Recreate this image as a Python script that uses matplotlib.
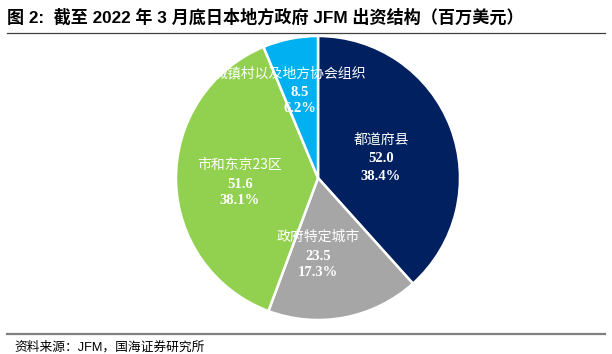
import matplotlib
matplotlib.use("Agg")
import matplotlib.pyplot as plt
from matplotlib.lines import Line2D

categories = ["都道府县", "政府特定城市", "市和东京23区", "城镇村以及地方协会组织"]
values = [52.0, 23.5, 51.6, 8.5]
percents = ["38.4%", "17.3%", "38.1%", "6.2%"]
colors = ["#002060", "#A6A6A6", "#92D050", "#00B0F0"]

W, H = 612, 354
fig = plt.figure(figsize=(W / 100, H / 100), dpi=100)
ax = fig.add_axes([0, 0, 1, 1])

cx, cy, R = 318, H - 178, 142
ax.pie(values, colors=colors, startangle=90, counterclock=False,
       center=(cx, cy), radius=R, frame=True,
       wedgeprops=dict(edgecolor="white", linewidth=1.8))
ax.set_xlim(0, W)
ax.set_ylim(0, H)
ax.set_aspect("equal")
ax.axis("off")

cjk = ["Noto Sans CJK SC", "DejaVu Sans"]
serif = ["Liberation Serif", "Noto Sans CJK SC"]
label_pos = [(381, 140), (318, 237), (240, 165), (290, 73)]
for (lx, ly), name, v, p in zip(label_pos, categories, values, percents):
    ax.text(lx, H - ly, name, color="white", fontsize=10, family=cjk,
            ha="center", va="center")
    dx = 10 if name.startswith("城镇") else 0
    ax.text(lx + dx, H - ly - 19, f"{v:.1f}", color="white", fontsize=10.5,
            family=serif, fontweight="bold", ha="center", va="center")
    ax.text(lx + dx, H - ly - 36, p, color="white", fontsize=10.5,
            family=serif, fontweight="bold", ha="center", va="center")

# title
fig.text(7 / W, 1 - 17 / H, "图 2:  截至 2022 年 3 月底日本地方政府 JFM 出资结构（百万美元）",
         fontsize=12.3, fontweight="bold", family=["Liberation Sans", "Noto Sans CJK SC"],
         ha="left", va="center")
fig.add_artist(Line2D([7 / W, 605 / W], [1 - 33 / H, 1 - 33 / H], color="#404040", lw=0.9,
                      transform=fig.transFigure))
fig.add_artist(Line2D([7 / W, 605 / W], [1 - 334 / H, 1 - 334 / H], color="#808080", lw=1.6,
                      transform=fig.transFigure))
fig.text(14 / W, 1 - 347 / H, "资料来源：JFM，国海证券研究所", fontsize=9.2,
         family=["Liberation Sans", "Noto Sans CJK SC"], ha="left", va="center")

fig.savefig("out.png", dpi=100)
